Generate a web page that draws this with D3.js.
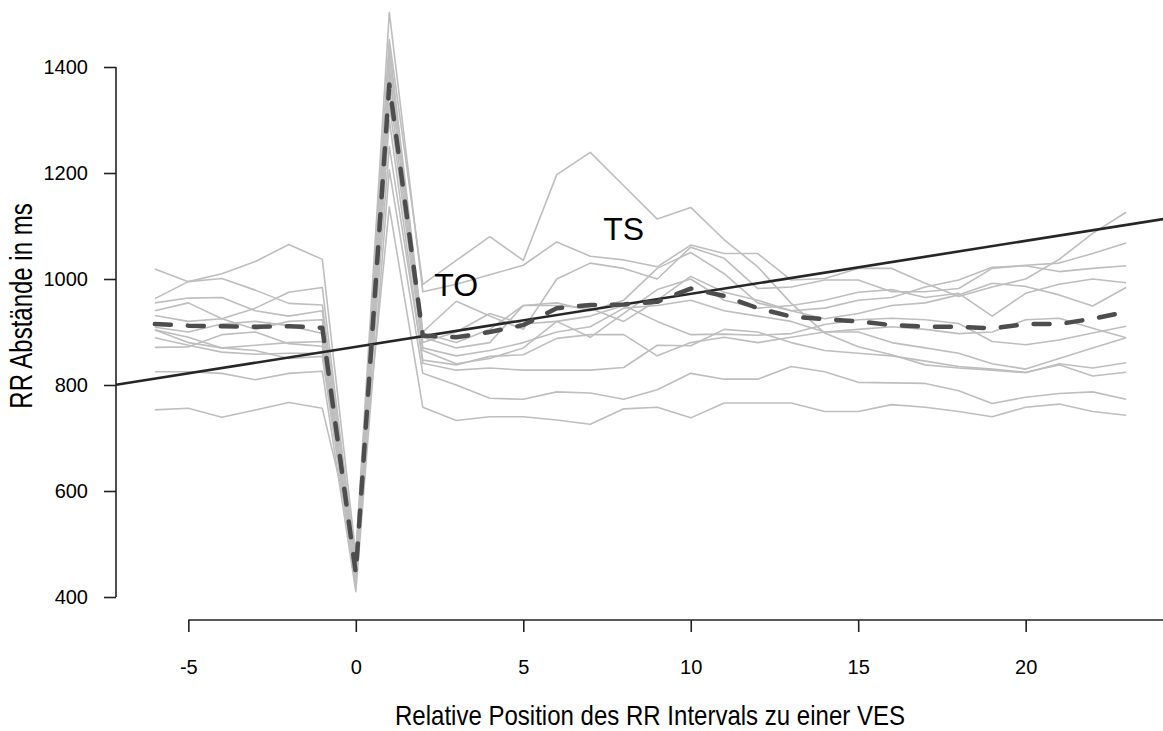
<!DOCTYPE html>
<html>
<head>
<meta charset="utf-8">
<script src="https://cdn.jsdelivr.net/npm/d3@7/dist/d3.min.js"></script>
<style>
  body { margin: 0; background: #fff; }
  text { font-family: "Liberation Sans", Arial, sans-serif; fill: #000; }
</style>
</head>
<body>
<svg id="chart" width="1163" height="731"></svg>
<script>
/* RR intervals around a ventricular extrasystole (VES) ------------------- */

// relative position of the RR interval to the VES
var positions = [-6, -5, -4, -3, -2, -1, 0, 1, 2, 3, 4, 5, 6, 7, 8, 9, 10, 11,
                 12, 13, 14, 15, 16, 17, 18, 19, 20, 21, 22, 23];

// one series per recording (ms)
var rr01 = [963, 995, 1010, 1033, 1065, 1037, 480, 1503, 976, 990, 1008, 1026, 1070, 1043, 1036, 1023,
            1064, 1048, 1048, 998, 1001, 1020, 1020, 992, 967, 985, 1000, 1037, 1086, 1126];
var rr02 = [1019, 995, 1001, 979, 954, 951, 470, 1452, 990, 1035, 1080, 1035, 1197, 1239, 1176, 1113,
            1135, 1074, 1023, 954, 898, 872, 857, 838, 832, 828, 823, 840, 832, 842];
var rr03 = [940, 955, 925, 945, 975, 984, 460, 1440, 900, 958, 930, 905, 1000, 1030, 1020, 1000,
            1060, 1039, 982, 985, 998, 998, 976, 976, 982, 1020, 1026, 1030, 1048, 1068];
var rr04 = [955, 964, 965, 940, 930, 940, 455, 1420, 898, 880, 905, 950, 955, 940, 960, 1020,
            1050, 1010, 955, 940, 945, 960, 965, 985, 998, 1022, 1025, 1014, 1020, 1025];
var rr05 = [931, 920, 925, 905, 920, 923, 430, 1385, 890, 870, 880, 950, 950, 945, 920, 960,
            1005, 975, 960, 940, 925, 935, 950, 955, 970, 992, 986, 970, 949, 984];
var rr06 = [909, 900, 915, 920, 912, 897, 440, 1400, 880, 900, 935, 915, 920, 890, 935, 980,
            1000, 960, 945, 950, 960, 975, 980, 965, 973, 930, 973, 990, 1000, 993];
var rr07 = [904, 880, 870, 875, 880, 882, 445, 1360, 870, 855, 865, 880, 900, 910, 945, 950,
            960, 940, 930, 920, 900, 905, 910, 905, 897, 900, 923, 926, 907, 889];
var rr08 = [871, 872, 895, 900, 878, 873, 420, 1330, 865, 840, 850, 870, 920, 930, 950, 920,
            895, 896, 894, 897, 914, 923, 926, 923, 916, 882, 876, 885, 898, 911];
var rr09 = [889, 875, 862, 858, 860, 860, 450, 1250, 847, 838, 854, 857, 888, 895, 895, 855,
            880, 890, 880, 890, 900, 900, 880, 870, 860, 840, 830, 850, 870, 889];
var rr10 = [904, 890, 870, 865, 850, 854, 425, 1300, 841, 828, 832, 828, 828, 828, 833, 875,
            874, 905, 900, 880, 865, 860, 855, 845, 835, 830, 824, 838, 817, 824];
var rr11 = [825, 825, 822, 810, 822, 826, 410, 1206, 822, 800, 775, 773, 787, 785, 773, 791,
            822, 811, 811, 835, 825, 805, 804, 803, 789, 765, 777, 784, 787, 773];
var rr12 = [753, 756, 739, 753, 767, 756, 490, 1136, 758, 733, 740, 740, 734, 726, 755, 758,
            738, 766, 766, 766, 750, 750, 763, 758, 750, 740, 758, 764, 750, 743];

// mean course (dashed)
var rrMean = [915, 912, 911, 910, 911, 908, 445, 1367, 893, 890, 900, 913, 945, 951, 952, 957,
              982, 968, 945, 929, 924, 920, 913, 910, 910, 907, 915, 915, 925, 938];

// linear trend (solid line)
var trendIntercept = 872;
var trendSlope = 10;

// axis ticks
var xTicks = [-5, 0, 5, 10, 15, 20, 25];
var yTicks = [400, 600, 800, 1000, 1200, 1400];

// annotations
var labels = [{text: "TO", x: 3, y: 990}, {text: "TS", x: 8, y: 1095}];

/* BUILD PLOT --------------------------------------------------------------- */
var series = [rr01, rr02, rr03, rr04, rr05, rr06, rr07, rr08, rr09, rr10, rr11, rr12];

var svg = d3.select("#chart");

// plot region as in R (4% extension of data range)
var x = d3.scaleLinear()
    .domain([-7.16, 24.16])
    .range([116, 1165]);
var y = d3.scaleLinear()
    .domain([400, 1400])
    .range([597, 67]);

svg.append("clipPath")
    .attr("id", "plotclip")
  .append("rect")
    .attr("x", 116).attr("y", -40)
    .attr("width", 1049).attr("height", 656);

var plot = svg.append("g").attr("clip-path", "url(#plotclip)");

var line = d3.line()
    .x(function(d, i) { return x(positions[i]); })
    .y(function(d) { return y(d); });

// single recordings
plot.selectAll("path.rec")
    .data(series)
    .enter()
    .append("path")
    .attr("class", "rec")
    .attr("d", line)
    .attr("fill", "none")
    .attr("stroke", "#bebebe")
    .attr("stroke-width", 1.6)
    .attr("stroke-linejoin", "round");

// trend line across the plot region
var xd = x.domain();
plot.append("line")
    .attr("x1", x(xd[0])).attr("y1", y(trendIntercept + trendSlope * xd[0]))
    .attr("x2", x(xd[1])).attr("y2", y(trendIntercept + trendSlope * xd[1]))
    .attr("stroke", "#262626")
    .attr("stroke-width", 2.6);

// mean
plot.append("path")
    .datum(rrMean)
    .attr("d", line)
    .attr("fill", "none")
    .attr("stroke", "#4d4d4d")
    .attr("stroke-width", 4.5)
    .attr("stroke-linecap", "round")
    .attr("stroke-linejoin", "round")
    .attr("stroke-dasharray", "16,17");

// text annotations
plot.selectAll("text.lab")
    .data(labels)
    .enter()
    .append("text")
    .attr("class", "lab")
    .attr("x", function(d) { return x(d.x); })
    .attr("y", function(d) { return y(d.y); })
    .attr("dy", "0.36em")
    .attr("text-anchor", "middle")
    .style("font-size", "32px")
    .text(function(d) { return d.text; });

// y axis
var yAxis = svg.append("g")
    .attr("transform", "translate(116,0)")
    .call(d3.axisLeft(y).tickValues(yTicks).tickSize(12).tickPadding(16)
        .tickFormat(function(d) { return String(d); }));
yAxis.select(".domain").remove();
yAxis.append("line")
    .attr("y1", y(yTicks[0])).attr("y2", y(yTicks[yTicks.length - 1]))
    .attr("stroke", "#222").attr("stroke-width", 1.6);
yAxis.selectAll(".tick line").attr("stroke", "#222").attr("stroke-width", 1.6);
yAxis.selectAll(".tick text").style("font-size", "20px").attr("fill", "#000");

// x axis
var xAxis = svg.append("g")
    .attr("transform", "translate(0,620)")
    .call(d3.axisBottom(x).tickValues(xTicks).tickSize(12).tickPadding(28)
        .tickFormat(function(d) { return String(d); }));
xAxis.select(".domain").remove();
xAxis.append("line")
    .attr("x1", x(xTicks[0])).attr("x2", x(xTicks[xTicks.length - 1]))
    .attr("stroke", "#222").attr("stroke-width", 1.6);
xAxis.selectAll(".tick line").attr("stroke", "#222").attr("stroke-width", 1.6);
xAxis.selectAll(".tick text").style("font-size", "20px").attr("fill", "#000");
// last tick lies outside the picture
xAxis.selectAll(".tick text").filter(function(d) { return d > 23; }).remove();

// axis titles (narrow lettering as in the original)
svg.append("text")
    .attr("transform", "translate(650,715) scale(0.89,1)")
    .attr("dy", "0.36em")
    .attr("text-anchor", "middle")
    .style("font-size", "27px")
    .text("Relative Position des RR Intervals zu einer VES");

svg.append("text")
    .attr("transform", "translate(20,306) rotate(-90) scale(0.75,1)")
    .attr("dy", "0.36em")
    .attr("text-anchor", "middle")
    .style("font-size", "32px")
    .text("RR Abstände in ms");
</script>
</body>
</html>
